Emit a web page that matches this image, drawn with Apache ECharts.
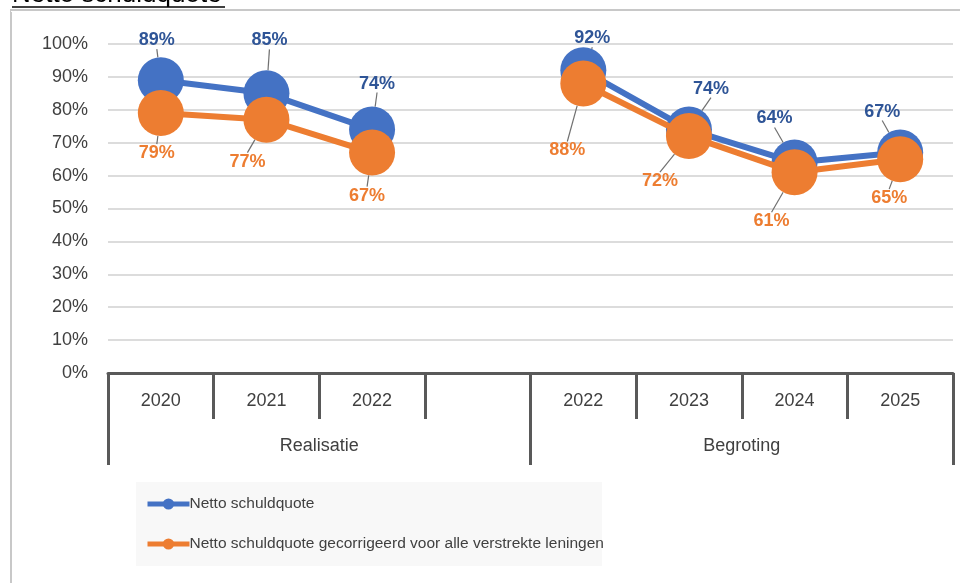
<!DOCTYPE html>
<html>
<head>
<meta charset="utf-8">
<script src="https://cdn.jsdelivr.net/npm/echarts@6/dist/echarts.min.js"></script>
<style>
  html, body { margin: 0; padding: 0; background: #fff; }
  #main { width: 960px; height: 583px; }
</style>
</head>
<body>
<div id="main"></div>
<script>
const years = ['2020', '2021', '2022', '', '2022', '2023', '2024', '2025'];
const groups = ['Realisatie', 'Begroting'];
const netto = [89, 85, 74, null, 92, 74, 64, 67];
const gecorrigeerd = [79, 77, 67, null, 88, 72, 61, 65];
const seriesNames = ['Netto schuldquote', 'Netto schuldquote gecorrigeerd voor alle verstrekte leningen'];

// label offsets (dx, dy) from the default label spot, per point
const blueShift = [[-4, -3], [3, -16], [5, -9], [0, 0], [9, 5], [22, -4], [-20, -7], [-18, -4]];
const orangeShift = [[-4, 4], [-19, 6], [-5, 7], [0, 0], [-16, 31], [-29, 9], [-23, 13], [-11, 3]];

const font = '"Liberation Sans", Arial, sans-serif';

var chart = echarts.init(document.getElementById('main'));

function layoutFor(shift) {
  return function (p) {
    var s = shift[p.dataIndex] || [0, 0];
    return { dx: s[0], dy: s[1] };
  };
}

chart.setOption({
  animation: false,
  textStyle: { fontFamily: font },
  graphic: [
    { type: 'rect', shape: { x: 11, y: 10, width: 980, height: 600 },
      style: { fill: 'none', stroke: '#c8c8c8', lineWidth: 2 }, silent: true },
    { type: 'text',
      style: { x: 12, y: 8, verticalAlign: 'bottom', text: 'Netto schuldquote',
        font: '26px "Liberation Sans", Arial, sans-serif', fill: '#000' } },
    { type: 'rect', shape: { x: 11, y: 8, width: 220, height: 4 }, style: { fill: '#fff' } },
    { type: 'line', shape: { x1: 12, y1: 7, x2: 225, y2: 7 }, style: { stroke: '#000', lineWidth: 1.5 } },
    { type: 'line', shape: { x1: 11, y1: 10, x2: 231, y2: 10 }, style: { stroke: '#c8c8c8', lineWidth: 2 } },
    { type: 'rect', z: -1, shape: { x: 136, y: 482, width: 466, height: 84 },
      style: { fill: '#f8f8f8' }, silent: true }
  ],
  legend: {
    orient: 'vertical',
    left: 140,
    top: 491,
    itemGap: 24,
    itemWidth: 42,
    itemHeight: 14,
    lineStyle: { width: 5 },
    textStyle: { fontSize: 15.5, color: '#404040', fontFamily: font, padding: [0, 0, 0, -5] },
    data: seriesNames
  },
  grid: { left: 108, right: 7, top: 44, bottom: 210 },
  xAxis: [
    {
      type: 'category',
      data: years,
      position: 'bottom',
      boundaryGap: true,
      axisLine: { lineStyle: { color: '#595959', width: 3 } },
      axisTick: { show: true, interval: 0, length: 46, lineStyle: { color: '#595959', width: 3 } },
      axisLabel: { interval: 0, margin: 19, fontSize: 18, color: '#404040', fontFamily: font }
    },
    {
      type: 'category',
      data: groups,
      position: 'bottom',
      boundaryGap: true,
      axisLine: { show: false },
      axisTick: { show: true, interval: 0, length: 92, lineStyle: { color: '#595959', width: 3 } },
      axisLabel: { interval: 0, margin: 64, fontSize: 18, color: '#404040', fontFamily: font }
    }
  ],
  yAxis: {
    type: 'value',
    min: 0,
    max: 100,
    interval: 10,
    axisLine: { show: false },
    axisTick: { show: false },
    splitLine: { lineStyle: { color: '#d0d0d0', width: 1.5 } },
    axisLabel: { formatter: '{value}%', margin: 20, fontSize: 18, color: '#404040', fontFamily: font }
  },
  series: [
    {
      name: seriesNames[0],
      type: 'line',
      data: netto,
      connectNulls: false,
      symbol: 'circle',
      symbolSize: 46,
      itemStyle: { color: '#4472c4' },
      lineStyle: { color: '#4472c4', width: 6 },
      z: 2,
      label: {
        show: true, position: 'top', distance: 5,
        formatter: '{c}%', fontSize: 18, fontWeight: 'bold', color: '#2f5597', fontFamily: font
      },
      labelLine: { show: true, lineStyle: { color: '#707070', width: 1.2 } },
      labelLayout: layoutFor(blueShift)
    },
    {
      name: seriesNames[1],
      type: 'line',
      data: gecorrigeerd,
      connectNulls: false,
      symbol: 'circle',
      symbolSize: 46,
      itemStyle: { color: '#ed7d31' },
      lineStyle: { color: '#ed7d31', width: 6 },
      z: 3,
      label: {
        show: true, position: 'bottom', distance: 4,
        formatter: '{c}%', fontSize: 18, fontWeight: 'bold', color: '#ed7d31', fontFamily: font
      },
      labelLine: { show: true, lineStyle: { color: '#707070', width: 1.2 } },
      labelLayout: layoutFor(orangeShift)
    }
  ]
});
</script>
</body>
</html>
